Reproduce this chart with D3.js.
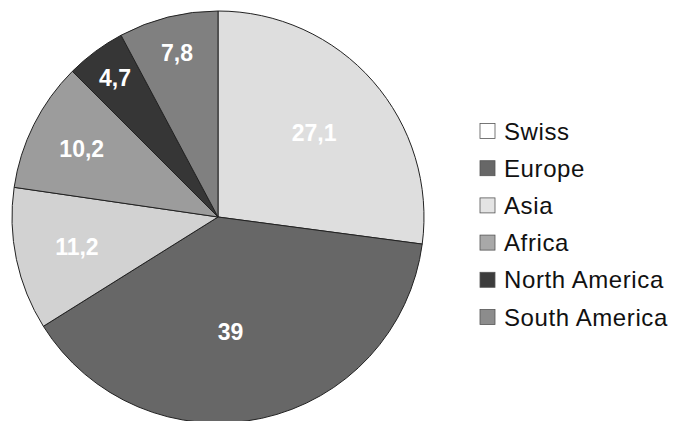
<!DOCTYPE html>
<html>
<head>
<meta charset="utf-8">
<script src="https://cdn.jsdelivr.net/npm/d3@7"></script>
<style>
  html, body { margin: 0; padding: 0; background: #fff; }
</style>
</head>
<body>
<div id="chart"></div>
<script>
const regions = ["Swiss", "Europe", "Asia", "Africa", "North America", "South America"];
const shares = [27.1, 39, 11.2, 10.2, 4.7, 7.8];
const shareLabels = ["27,1", "39", "11,2", "10,2", "4,7", "7,8"];

const width = 673;
const height = 421;
const cx = 218, cy = 217, radius = 206;

const fills = ["#dedede", "#676767", "#d2d2d2", "#9c9c9c", "#363636", "#808080"];
const swatchFills = ["#ffffff", "#676767", "#e4e4e4", "#a8a8a8", "#3c3c3c", "#8c8c8c"];
// label distance as fraction of radius and angle nudge in degrees (layout only)
const labelDist = [0.62, 0.56, 0.7, 0.74, 0.84, 0.82];
const labelTurn = [0, 6, 0, 0, 0, 0];

const svg = d3.select("#chart")
    .append("svg")
    .attr("width", width)
    .attr("height", height);

const g = svg.append("g")
    .attr("transform", `translate(${cx}, ${cy})`);

const pie = d3.pie()
    .value(d => d)
    .sort(null);

const arc = d3.arc()
    .innerRadius(0)
    .outerRadius(radius);

const arcs = g.selectAll(".slice")
    .data(pie(shares))
    .enter()
    .append("g")
    .attr("class", "slice");

arcs.append("path")
    .attr("d", arc)
    .attr("fill", (d, i) => fills[i])
    .attr("stroke", "#222")
    .attr("stroke-width", 1);

arcs.append("text")
    .attr("transform", (d, i) => {
        const a = (d.startAngle + d.endAngle) / 2 + labelTurn[i] * Math.PI / 180;
        const r = radius * labelDist[i];
        return `translate(${Math.sin(a) * r}, ${-Math.cos(a) * r})`;
    })
    .attr("text-anchor", "middle")
    .attr("dominant-baseline", "central")
    .attr("font-family", "'Liberation Sans', Arial, sans-serif")
    .attr("font-size", "23px")
    .attr("font-weight", "bold")
    .attr("fill", "#fff")
    .text((d, i) => shareLabels[i]);

// legend
const y = d3.scalePoint()
    .domain(regions)
    .range([131, 317]);

const legend = svg.selectAll(".legend")
    .data(regions)
    .enter()
    .append("g")
    .attr("class", "legend")
    .attr("transform", d => `translate(480, ${y(d)})`);

legend.append("rect")
    .attr("x", 0)
    .attr("y", -7.5)
    .attr("width", 15)
    .attr("height", 15)
    .attr("fill", (d, i) => swatchFills[i])
    .attr("stroke", "#555")
    .attr("stroke-width", 0.8);

legend.append("text")
    .attr("x", 24)
    .attr("y", 0)
    .attr("dominant-baseline", "central")
    .attr("font-family", "'Liberation Sans', Arial, sans-serif")
    .attr("font-size", "24px")
    .attr("letter-spacing", "0.6px")
    .attr("fill", "#111")
    .text(d => d);
</script>
</body>
</html>
